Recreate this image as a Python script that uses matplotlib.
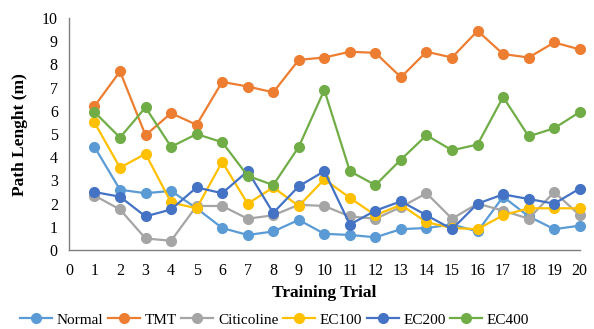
import numpy as np
import matplotlib
matplotlib.use("Agg")
import matplotlib.pyplot as plt

plt.rcParams['font.family'] = ['Liberation Serif', 'DejaVu Serif']

trials = list(range(1, 21))

normal = [4.45, 2.6, 2.45, 2.55, 1.8, 0.95, 0.65, 0.8, 1.3, 0.7,
          0.65, 0.55, 0.9, 0.95, 1.1, 0.8, 2.3, 1.45, 0.9, 1.05]
tmt = [6.2, 7.7, 4.95, 5.9, 5.4, 7.25, 7.05, 6.8, 8.2, 8.3,
       8.55, 8.5, 7.45, 8.55, 8.3, 9.45, 8.45, 8.3, 8.95, 8.65]
citicoline = [2.35, 1.75, 0.5, 0.4, 1.9, 1.9, 1.35, 1.5, 1.95, 1.9,
              1.45, 1.35, 1.85, 2.45, 1.35, 2.0, 1.7, 1.35, 2.5, 1.5]
ec100 = [5.5, 3.55, 4.15, 2.05, 1.8, 3.8, 2.0, 2.7, 1.9, 3.05,
         2.25, 1.5, 1.95, 1.2, 0.95, 0.9, 1.5, 1.8, 1.8, 1.8]
ec200 = [2.5, 2.3, 1.45, 1.75, 2.7, 2.45, 3.4, 1.6, 2.75, 3.4,
         1.1, 1.7, 2.1, 1.5, 0.9, 2.0, 2.4, 2.2, 2.0, 2.65]
ec400 = [5.95, 4.85, 6.15, 4.45, 5.0, 4.65, 3.2, 2.8, 4.45, 6.9,
         3.4, 2.8, 3.9, 4.95, 4.3, 4.55, 6.6, 4.9, 5.25, 5.95]

series = [
    ("Normal", normal, "#5B9BD5"),
    ("TMT", tmt, "#ED7D31"),
    ("Citicoline", citicoline, "#A5A5A5"),
    ("EC100", ec100, "#FFC000"),
    ("EC200", ec200, "#4472C4"),
    ("EC400", ec400, "#70AD47"),
]

fig = plt.figure(figsize=(5.94, 3.29), dpi=100)
ax = fig.add_axes([0.116, 0.24, 0.86, 0.705])

for name, vals, col in series:
    ax.plot(trials, vals, color=col, lw=1.6, marker='o', markersize=7,
            label=name, clip_on=False)

ax.set_xlim(0, 20)
ax.set_ylim(0, 10)
ax.set_xticks(range(0, 21))
ax.set_yticks(range(0, 11))
ax.tick_params(length=0, labelsize=11.5)
ax.tick_params(axis='x', pad=9)
ax.tick_params(axis='y', pad=8)
for s in ['top', 'right']:
    ax.spines[s].set_visible(False)
for s in ['left', 'bottom']:
    ax.spines[s].set_color('#7F7F7F')
    ax.spines[s].set_linewidth(1.0)

ax.set_xlabel("Training Trial", fontsize=12.5, fontweight='bold', labelpad=5)
ax.set_ylabel("Path Lenght (m)", fontsize=12.5, fontweight='bold', labelpad=10)

fig.legend(loc='upper left', bbox_to_anchor=(20 / 594, 1 - 313 / 329), ncol=6,
           frameon=False, fontsize=11, handlelength=2.1, columnspacing=0.3,
           handletextpad=0.3, borderaxespad=0, borderpad=0)

fig.savefig("out.png", dpi=100)
